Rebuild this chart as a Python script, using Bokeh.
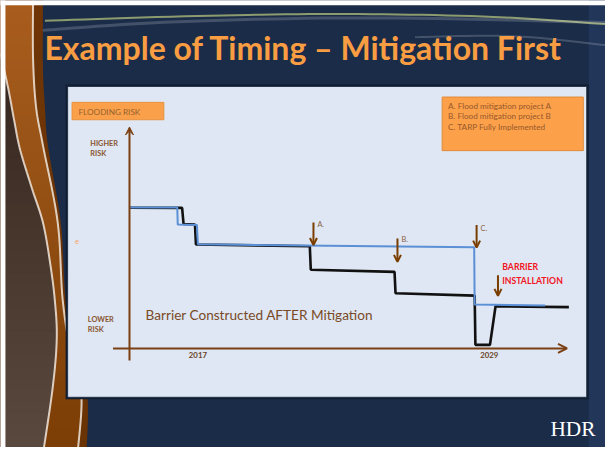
import numpy as np
from bokeh.plotting import figure
from bokeh.models import Arrow, OpenHead, VeeHead, Range1d
from bokeh.core.properties import value
from bokeh.embed import file_html
from bokeh.resources import INLINE

# ---------------- data ----------------
tick_years = [2017, 2029]
tick_labels = ["2017", "2029"]

# flooding risk without the barrier yet (black line)
current_years = [2014.20, 2016.35, 2016.41, 2016.88, 2016.92, 2021.61, 2021.65,
                 2025.10, 2025.14, 2028.40, 2028.43, 2029.03, 2029.26, 2032.28]
current_risk = [97.2, 97.1, 85.9, 85.6, 71.8, 70.6, 54.3,
                52.9, 38.1, 36.5, 2.5, 2.5, 29.1, 28.5]

# flooding risk with the mitigation projects (blue line)
mitigated_years = [2014.20, 2016.15, 2016.17, 2016.96, 2017.00, 2028.38, 2028.40, 2031.30]
mitigated_risk = [97.4, 97.3, 85.6, 85.3, 71.9, 69.9, 30.3, 29.6]

event_labels = ["A.", "B.", "C."]
event_years = [2021.76, 2025.22, 2028.48]
barrier_year = 2029.36

legend_items = ["A. Flood mitigation project A",
                "B. Flood mitigation project B",
                "C. TARP Fully Implemented"]

# ---------------- layout helpers (reference pixel -> data) ----------------
W, H = 605, 447
REF_W, REF_H = 613, 463
FS = 0.97  # font scale (figure is slightly smaller than the reference slide)


def fs(px):
    return "%.1fpx" % (px * FS)


def X(rx):
    return 2017 + (rx - 200) / 24.6


def Y(ry):
    return (360.4 - ry) / 1.5


def XS(seq):
    return [X(v) for v in seq]


def YS(seq):
    return [Y(v) for v in seq]


def cr(pts, n=12):
    P = np.array(pts, float)
    P = np.vstack([P[0], P, P[-1]])
    out = []
    for i in range(1, len(P) - 2):
        p0, p1, p2, p3 = P[i - 1], P[i], P[i + 1], P[i + 2]
        for t in np.linspace(0, 1, n, endpoint=False):
            t2 = t * t
            t3 = t2 * t
            out.append(0.5 * ((2 * p1) + (-p0 + p2) * t + (2 * p0 - 5 * p1 + 4 * p2 - p3) * t2
                              + (-p0 + 3 * p1 - 3 * p2 + p3) * t3))
    out.append(P[-2])
    return np.array(out)


def lerp_color(c0, c1, t):
    a = [int(c0[i:i + 2], 16) for i in (1, 3, 5)]
    b = [int(c1[i:i + 2], 16) for i in (1, 3, 5)]
    return "#%02x%02x%02x" % tuple(int(round(a[k] + (b[k] - a[k]) * t)) for k in range(3))


p = figure(width=W, height=H, output_backend="svg", toolbar_location=None,
           x_range=Range1d(X(0), X(REF_W)), y_range=Range1d(Y(REF_H), Y(0)),
           x_axis_type=None, y_axis_type=None, min_border=0,
           background_fill_color="#1b2c49", border_fill_color="#1b2c49",
           outline_line_color=None)
p.grid.visible = False

# subtle right strip
p.quad(left=[X(596)], right=[X(620)], bottom=[Y(470)], top=[Y(0)],
       fill_color="#22365a", line_color=None)

# streaks at the top
for pts, col, a, w in [
    ([(45, 21), (200, 16), (350, 14), (500, 17), (620, 25)], "#b4c27c", 0.75, 2),
    ([(40, 31), (180, 22), (380, 18), (620, 23)], "#ffffff", 0.18, 3),
    ([(420, 38), (520, 37), (620, 47)], "#ffffff", 0.18, 2),
]:
    c = cr(pts)
    p.line(XS(c[:, 0]), YS(c[:, 1]), line_color=col, line_alpha=a, line_width=w)

# left swoosh
outer = cr([(43, 0), (43, 70), (45, 110), (48, 150), (61, 230), (66, 310),
            (76, 370), (88, 410), (87, 470)])
line2 = cr([(33, 0), (33, 60), (36, 110), (43, 150), (58, 230), (63, 310),
            (72, 370), (82, 410), (78, 470)])
inner = cr([(0, 55), (8, 92), (14, 125), (20, 155), (32, 195), (43, 230),
            (50, 270), (55, 310), (57, 350), (53, 400), (43, 470)])


def strips(curve, c_top, c_bot, y_from, y_to, step=12):
    cy, cx = curve[:, 1], curve[:, 0]
    xs_all, ys_all, cols = [], [], []
    for y0 in np.arange(y_from, y_to, step):
        y1 = min(y0 + step + 1, y_to)
        yy = np.linspace(y0, y1, 6)
        xx = np.interp(yy, cy, cx)
        xs_all.append(XS([-5] + list(xx) + [-5]))
        ys_all.append(YS([y0] + list(yy) + [y1]))
        cols.append(lerp_color(c_top, c_bot, (y0 - y_from) / (y_to - y_from)))
    p.patches(xs_all, ys_all, fill_color=cols, line_color=None)


strips(outer, "#6f3507", "#6a3304", 0, 470)
strips(line2, "#a85d1e", "#7a3d05", 0, 470)
strips(inner, "#36261d", "#5a4a40", 55, 470)
for c, w, a in [(line2, 2, 0.85), (inner, 2, 0.85)]:
    p.line(XS(c[:, 0]), YS(c[:, 1]), line_color="#f1e6dc", line_width=w, line_alpha=a)

# white margin strips of the slide image
p.quad(left=[X(-5), X(-5)], right=[X(5), X(620)], bottom=[Y(470), Y(5)],
       top=[Y(-5), Y(-5)], fill_color="white", line_color=None)

# panel
p.quad(left=[X(66)], right=[X(596)], bottom=[Y(413)], top=[Y(87)],
       fill_color="#111c2e", line_color=None)
p.quad(left=[X(68)], right=[X(594)], bottom=[Y(411)], top=[Y(89)],
       fill_color="#dee7f3", line_color="#24344d", line_width=1)

# title
p.text(x=[X(307)], y=[Y(49)], text=["Example of Timing \u2013 Mitigation First"],
       text_font=value("Lato"), text_font_style="bold",
       text_font_size=fs(33), text_color="#f99d42",
       text_align="center", text_baseline="middle")

# flooding risk box
p.quad(left=[X(72.5)], right=[X(165.5)], bottom=[Y(123.5)], top=[Y(105.5)],
       fill_color="#fba04a", line_color="#e8923e", line_width=1)
p.text(x=[X(79)], y=[Y(115)], text=["FLOODING RISK"], text_font=value("Lato"),
       text_font_size=fs(8.5), text_color="#93602f", text_baseline="middle")

# legend box
p.quad(left=[X(447.5)], right=[X(590.5)], bottom=[Y(155.5)], top=[Y(100)],
       fill_color="#fda04a", line_color="#e08a3a", line_width=1)
p.text(x=[X(453.5)] * 3, y=YS([109.5, 120, 130.7]), text=legend_items,
       text_font=value("Lato"), text_font_size=fs(8.5), text_color="#95592a",
       text_baseline="middle")

# side labels
p.text(x=[X(91)] * 2, y=YS([148.5, 158.5]), text=["HIGHER", "RISK"],
       text_font=value("Lato"), text_font_style="bold", text_font_size=fs(7.5),
       text_color="#8a5530", text_baseline="middle")
p.text(x=[X(88.5)] * 2, y=YS([330.5, 341]), text=["LOWER", "RISK"],
       text_font=value("Lato"), text_font_style="bold", text_font_size=fs(7.5),
       text_color="#8a5530", text_baseline="middle")
p.text(x=[X(75.5)], y=[Y(249)], text=["e"], text_font=value("Lato"),
       text_font_size=fs(8), text_color="#f4a868", text_baseline="middle")

p.text(x=[X(147)], y=[Y(326)], text=["Barrier Constructed AFTER Mitigation"],
       text_font=value("Lato"), text_font_size=fs(14), text_color="#7a4a27",
       text_baseline="middle")

# axes (arrows)
axis_col = "#7b3f12"
p.add_layout(Arrow(x_start=X(130.7), y_start=Y(373), x_end=X(130.7), y_end=Y(131),
                   line_color=axis_col, line_width=2,
                   end=VeeHead(size=8, fill_color=axis_col, line_color=axis_col)))
p.add_layout(Arrow(x_start=X(114), y_start=Y(360.4), x_end=X(574), y_end=Y(360.4),
                   line_color=axis_col, line_width=2,
                   end=OpenHead(size=9, line_color=axis_col, line_width=2)))

# tick labels
p.text(x=tick_years, y=[Y(367)] * len(tick_years), text=tick_labels,
       text_font=value("Lato"), text_font_style="bold", text_font_size=fs(8),
       text_color="#6b3f1f", text_align="center", text_baseline="middle")

# series
p.line(current_years, current_risk, line_color="#111111", line_width=2.6)
p.line(mitigated_years, mitigated_risk, line_color="#5b8fd6", line_width=2)

# event arrows
arrow_col = "#7a3d00"
tops = [230, 246.5, 232.5]
tips = [253.3, 270.7, 256]
for yr, lab, t0, t1 in zip(event_years, event_labels, tops, tips):
    p.add_layout(Arrow(x_start=yr, y_start=Y(t0), x_end=yr, y_end=Y(t1),
                       line_color=arrow_col, line_width=2,
                       end=OpenHead(size=7, line_color=arrow_col, line_width=2)))
p.text(x=[v + 4 / 24.6 for v in event_years], y=YS([232.5, 248, 236]), text=event_labels,
       text_font=value("Lato"), text_font_size=fs(7.5), text_color="#8a6040",
       text_baseline="middle")

p.add_layout(Arrow(x_start=barrier_year, y_start=Y(284.5), x_end=barrier_year, y_end=Y(306),
                   line_color=arrow_col, line_width=2,
                   end=OpenHead(size=7, line_color=arrow_col, line_width=2)))
p.text(x=[barrier_year + 4.3 / 24.6] * 2, y=YS([276, 290]), text=["BARRIER", "INSTALLATION"],
       text_font=value("Lato"), text_font_style="bold", text_font_size=fs(9),
       text_color="#f2141e", text_baseline="middle")

# logo
p.text(x=[X(580)], y=[Y(444)], text=["HDR"],
       text_font=value("Liberation Serif"), text_font_size=fs(22),
       text_color="#ffffff", text_align="center", text_baseline="middle")

open("out.html", "w").write(file_html(p, INLINE))
